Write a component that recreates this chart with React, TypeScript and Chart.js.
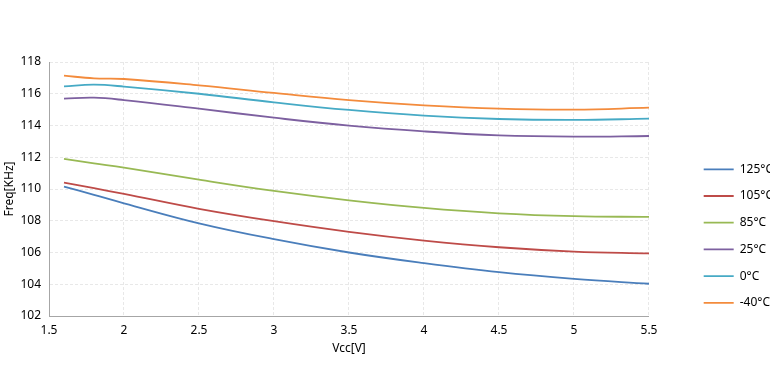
import React, { useEffect, useRef } from "react";
import { Chart, registerables } from "chart.js";

Chart.register(...registerables);

const vcc = [1.6, 1.8, 2.0, 2.5, 3.0, 3.5, 4.0, 4.5, 5.0, 5.5];
const t125 = [110.15, 109.63, 109.1, 107.84, 106.84, 106.0, 105.33, 104.76, 104.34, 104.03];
const t105 = [110.4, 110.05, 109.69, 108.75, 107.97, 107.3, 106.75, 106.33, 106.06, 105.94];
const t85 = [111.9, 111.62, 111.35, 110.59, 109.88, 109.29, 108.81, 108.47, 108.29, 108.24];
const t25 = [115.69, 115.75, 115.6, 115.06, 114.49, 113.99, 113.63, 113.38, 113.3, 113.34];
const t0 = [116.47, 116.57, 116.45, 116.0, 115.46, 114.98, 114.62, 114.41, 114.35, 114.43];
const tm40 = [117.14, 116.97, 116.93, 116.53, 116.05, 115.6, 115.27, 115.06, 115.0, 115.12];

const seriesLabels = ["125°C", "105°C", "85°C", "25°C", "0°C", "-40°C"];
const seriesValues = [t125, t105, t85, t25, t0, tm40];
const seriesColors = ["#4A7EBB", "#BE4B48", "#98B954", "#7D60A0", "#46AAC5", "#F38B3C"];

const xTicks = [1.5, 2, 2.5, 3, 3.5, 4, 4.5, 5, 5.5];
const yTicks = [102, 104, 106, 108, 110, 112, 114, 116, 118];

const xTitle = "Vcc[V]";
const yTitle = "Freq[KHz]";

const FONT = '"Noto Sans", sans-serif';
const FS = 12;
const H = 376;

export default function App() {
  const ref = useRef<HTMLCanvasElement | null>(null);

  useEffect(() => {
    const canvas = ref.current;
    if (!canvas) return;
    const mctx = canvas.getContext("2d")!;
    mctx.font = `${FS}px ${FONT}`;
    let maxW = 0;
    for (const l of seriesLabels) maxW = Math.max(maxW, mctx.measureText(l).width);
    const boxW = 30;
    const legendPad = 14.7;
    const itemW = boxW + FS / 2 + maxW;
    const boxStart = 703.3;
    const W = Math.round(boxStart + 10 + itemW);
    canvas.width = W;
    canvas.height = H;
    canvas.style.width = W + "px";
    canvas.style.height = H + "px";

    const datasets = seriesLabels.map((label, i) => ({
      label,
      data: vcc.map((x, j) => ({ x, y: seriesValues[i][j] })),
      borderColor: seriesColors[i],
      backgroundColor: seriesColors[i],
      borderWidth: 1.8,
      pointRadius: 0,
      tension: 0.4,
      fill: false,
    }));

    const gridOpts = { color: "#e8e8e8", drawTicks: false, lineWidth: 1 };
    const borderOpts = { display: true, color: "#a6a6a6", width: 1, dash: [3, 2] };

    const chart = new Chart(canvas, {
      type: "line",
      data: { datasets },
      options: {
        animation: false,
        responsive: false,
        devicePixelRatio: 1,
        layout: { padding: { top: 62, bottom: 16.3, left: 0, right: 0 } },
        font: { family: FONT, size: FS },
        plugins: {
          tooltip: { enabled: false },
          legend: {
            position: "right",
            align: "center",
            title: { display: true, text: "", font: { family: FONT, size: FS }, padding: { top: 36, bottom: 0 } },
            labels: {
              usePointStyle: true,
              pointStyle: "line",
              pointStyleWidth: boxW,
              boxWidth: boxW,
              padding: legendPad,
              color: "#000",
              font: { family: FONT, size: FS },
            },
          },
        },
        scales: {
          x: {
            type: "linear",
            min: xTicks[0],
            max: xTicks[xTicks.length - 1],
            afterBuildTicks: (s: any) => {
              s.ticks = xTicks.map((v) => ({ value: v }));
            },
            ticks: {
              padding: 7,
              color: "#000",
              font: { family: FONT, size: FS },
              callback: (v: any) => String(Number(v)),
            },
            grid: gridOpts,
            border: borderOpts,
            title: { display: true, text: xTitle, color: "#000", font: { family: FONT, size: FS }, padding: { top: 4, bottom: 4 } },
            afterFit: (s: any) => {
              s.height = 359.7 - 316;
            },
          },
          y: {
            type: "linear",
            min: yTicks[0],
            max: yTicks[yTicks.length - 1],
            afterBuildTicks: (s: any) => {
              s.ticks = yTicks.map((v) => ({ value: v }));
            },
            ticks: {
              padding: 8,
              color: "#000",
              font: { family: FONT, size: FS },
              callback: (v: any) => String(Number(v)),
            },
            grid: gridOpts,
            border: borderOpts,
            title: { display: true, text: yTitle, color: "#000", font: { family: FONT, size: FS }, padding: { top: 2.3, bottom: 4 } },
            afterFit: (s: any) => {
              s.width = 49;
            },
          },
          gap: {
            type: "linear",
            position: "right",
            display: true,
            grid: { display: false, drawTicks: false },
            border: { display: false },
            ticks: { display: false },
            afterFit: (s: any) => {
              s.width = 40;
            },
          },
        },
      } as any,
    });
    return () => chart.destroy();
  }, []);

  return (
    <div style={{ position: "absolute", left: 0, top: 0, width: 770, height: H, overflow: "hidden", background: "#fff" }}>
      <canvas ref={ref} style={{ display: "block" }} />
    </div>
  );
}
